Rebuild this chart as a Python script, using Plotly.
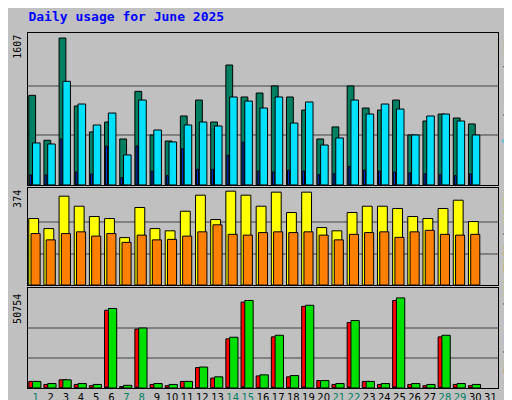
import plotly.graph_objects as go
from plotly.subplots import make_subplots

days = list(range(1, 31))
weekend = [1, 7, 8, 14, 15, 21, 22, 28, 29]
hits = [967, 482, 1585, 852, 572, 679, 496, 1010, 539, 474, 744, 916, 679, 1294, 949, 992, 1068, 949, 808, 496, 626, 1068, 830, 808, 916, 539, 690, 765, 722, 658]
files = [453, 442, 1118, 873, 647, 776, 324, 916, 593, 464, 647, 679, 636, 949, 905, 830, 949, 668, 895, 431, 507, 916, 765, 873, 819, 539, 744, 765, 690, 539]
pages = [108, 108, 496, 140, 118, 420, 80, 420, 150, 100, 390, 170, 170, 320, 460, 150, 140, 160, 150, 110, 120, 200, 160, 150, 140, 130, 120, 110, 100, 120]
visits = [265, 225, 354, 314, 273, 265, 189, 309, 225, 216, 294, 358, 261, 374, 358, 314, 370, 289, 370, 229, 216, 289, 314, 314, 305, 273, 265, 305, 338, 253]
sites = [205, 180, 205, 212, 195, 205, 170, 199, 180, 182, 195, 212, 240, 202, 199, 209, 212, 209, 212, 199, 180, 202, 209, 212, 190, 212, 218, 202, 199, 202]
kb_f = [3700, 2000, 4600, 2000, 1300, 43800, 800, 33200, 2000, 1300, 3700, 11500, 5600, 27700, 48400, 6800, 28800, 6300, 46000, 4200, 2000, 36900, 3700, 2000, 49300, 2000, 1300, 28800, 2000, 1300]
kb_in = [200, 150, 250, 150, 100, 600, 80, 500, 150, 100, 200, 300, 250, 450, 650, 250, 450, 250, 600, 200, 150, 500, 200, 150, 650, 150, 100, 450, 150, 100]
kb_out = [3700, 2500, 4600, 2500, 2000, 44800, 1500, 33800, 2500, 2000, 3700, 11800, 6300, 28600, 49300, 7400, 29700, 7000, 46600, 4200, 2500, 38000, 3700, 2500, 50754, 2500, 2000, 29700, 2500, 2000]
max1, max2, max3 = 1607, 374, 50754

fig = make_subplots(rows=3, cols=1, shared_xaxes=True, vertical_spacing=0.0)
ln = dict(color="black", width=1)

def bars(y, color, off, w, row):
    fig.add_trace(go.Bar(x=days, y=y, offset=off, width=w, marker=dict(color=color, line=ln)), row=row, col=1)

bars(hits, "#008060", -0.45, 0.45, 1)
bars(files, "#00E0FF", -0.2, 0.5, 1)
bars(pages, "#0040FF", -0.38, 0.12, 1)
bars(visits, "#FFFF00", -0.45, 0.65, 2)
bars(sites, "#FF8000", -0.3, 0.6, 2)
bars(kb_f, "#FF0000", -0.45, 0.5, 3)
bars(kb_in, "#0080FF", -0.38, 0.12, 3)
bars(kb_out, "#00E000", -0.2, 0.55, 3)

doms = [[0.572, 1.0], [0.29, 0.563], [0.0, 0.282]]
maxes = [max1, max2, max3]
pads = [152/149, 96/93, 100/90]
for i in range(3):
    m = maxes[i]
    fig.update_yaxes(row=i+1, col=1, domain=doms[i], range=[0, m*pads[i]],
                     tickvals=[m/3, 2*m/3], showticklabels=False, showgrid=True,
                     gridcolor="#808080", gridwidth=1.5, zeroline=False, automargin=False,
                     showline=True, linecolor="black", linewidth=1, mirror=True, ticks="")
ticktext = [f"<span style='color:#008060'>{d}</span>" if d in weekend else str(d) for d in range(1, 32)]
for i in range(3):
    fig.update_xaxes(row=i+1, col=1, range=[0.5, 31.5], showgrid=False, showline=True,
                     linecolor="black", mirror=True, ticks="", tickvals=list(range(1, 32)),
                     ticktext=ticktext, showticklabels=(i == 2), tickangle=0, automargin=False,
                     tickfont=dict(family="DejaVu Sans", size=10, color="black"))

mono = "DejaVu Sans Mono"
anns = [
    dict(x=-0.008, y=1.0, text="1607", yanchor="top"),
    dict(x=-0.008, y=0.563, text="374", yanchor="top"),
    dict(x=-0.008, y=0.27, text="50754", yanchor="top"),
]
for a in anns:
    fig.add_annotation(xref="paper", yref="paper", xanchor="right", textangle=-90,
                       showarrow=False, font=dict(family=mono, size=10, color="black"), **a)
common = dict(xref="paper", yref="paper", x=1.0, xshift=2, xanchor="left", textangle=90, showarrow=False,
              font=dict(family=mono, size=10))
fig.add_annotation(y=1.0, yanchor="top", **common,
    text="<span style='color:#008060'>Hits</span> / <span style='color:#00A0C0'>Files</span> / <span style='color:#00C0E0'>Pages</span>")
fig.add_annotation(y=0.563, yanchor="top", **common,
    text="<span style='color:#C0C000'>Visits</span> / <span style='color:#FF8000'>Sites</span>")
fig.add_annotation(y=0.0, yanchor="bottom", **common,
    text="<span style='color:#00C000'>KB Out</span> / <span style='color:#0080FF'>KB In</span> / <span style='color:#FF0000'>KB F</span>")

fig.update_layout(
    width=512, height=400, showlegend=False, barmode="overlay",
    paper_bgcolor="#C0C0C0", plot_bgcolor="#C0C0C0",
    margin=dict(l=20, r=22, t=25, b=20, autoexpand=False),
    title=dict(text="<b>Daily usage for June 2025</b>", x=0.04, xanchor="left", y=0.99, yanchor="top",
               font=dict(family=mono, size=13, color="#0000FF")),
)
fig.write_html("out.html")
